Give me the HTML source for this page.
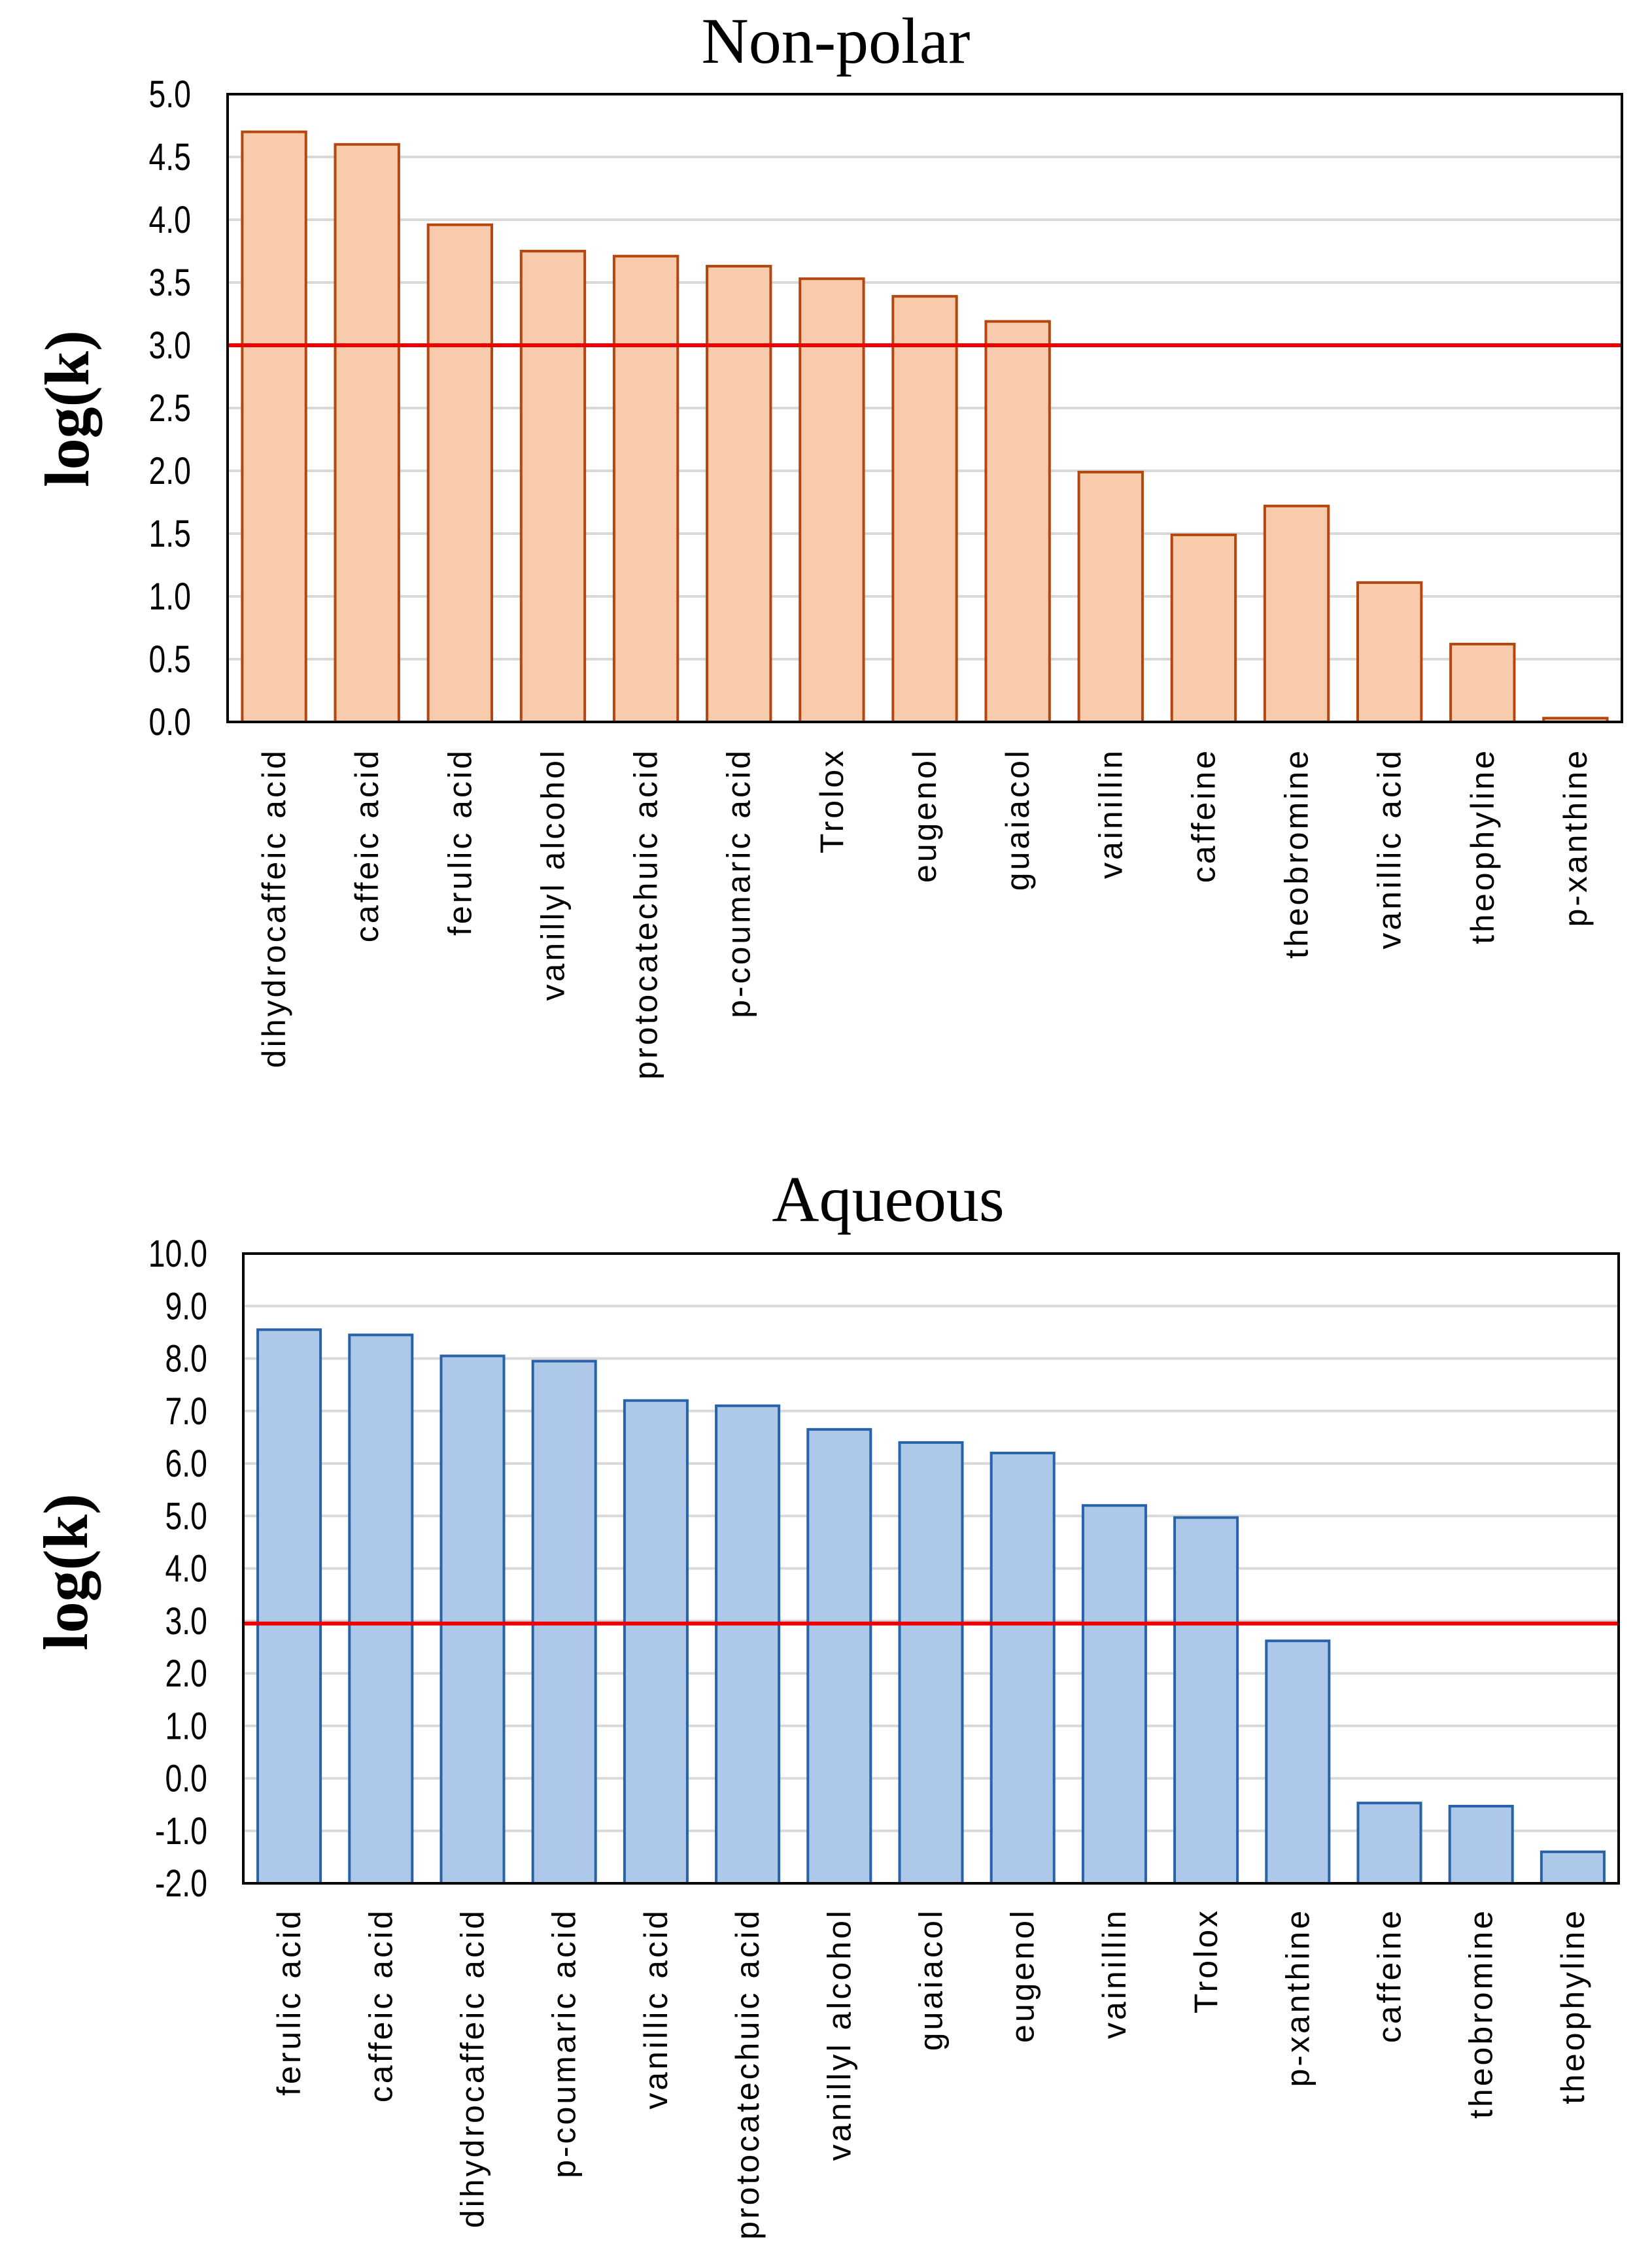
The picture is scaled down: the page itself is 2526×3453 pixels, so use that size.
<!DOCTYPE html>
<html><head><meta charset="utf-8">
<style>
html,body{margin:0;padding:0;background:#fff;}
svg{display:block;}
</style></head>
<body>
<svg id="chart" width="2526" height="3453" viewBox="0 0 2526 3453" xmlns="http://www.w3.org/2000/svg"></svg>
<script>
const npCategories = ["dihydrocaffeic acid","caffeic acid","ferulic acid","vanillyl alcohol","protocatechuic acid","p-coumaric acid","Trolox","eugenol","guaiacol","vainillin","caffeine","theobromine","vanillic acid","theophyline","p-xanthine"];
const npValues = [4.70,4.60,3.96,3.75,3.71,3.63,3.53,3.39,3.19,1.99,1.49,1.72,1.11,0.62,0.03];
const npTicks = ["0.0","0.5","1.0","1.5","2.0","2.5","3.0","3.5","4.0","4.5","5.0"];
const npThreshold = 3.0;

const aqCategories = ["ferulic acid","caffeic acid","dihydrocaffeic acid","p-coumaric acid","vanillic acid","protocatechuic acid","vanillyl alcohol","guaiacol","eugenol","vainillin","Trolox","p-xanthine","caffeine","theobromine","theophyline"];
const aqValues = [8.55,8.45,8.05,7.95,7.2,7.1,6.65,6.4,6.2,5.2,4.97,2.62,-0.47,-0.53,-1.4];
const aqTicks = ["-2.0","-1.0","0.0","1.0","2.0","3.0","4.0","5.0","6.0","7.0","8.0","9.0","10.0"];
const aqThreshold = 2.95;

const NS = "http://www.w3.org/2000/svg";
const svg = document.getElementById('chart');
function mk(tag, attrs, parent){
  const e = document.createElementNS(NS, tag);
  for (const k in attrs) e.setAttribute(k, attrs[k]);
  (parent||svg).appendChild(e);
  return e;
}

function drawChart(o){
  const g = mk('g', {});
  
  
  const ymin = parseFloat(o.ticks[0]), ymax = parseFloat(o.ticks[o.ticks.length-1]);
  const y = v => o.bottom - (v - ymin) / (ymax - ymin) * (o.bottom - o.top);
  const band = (o.right - o.left) / o.cats.length;
  const x = i => o.left + band * (i + 0.5);
  const bw = band * 0.685;

  const t = mk('text', {x:o.titleX, y:o.titleY, 'text-anchor':'middle', 'font-family':'"Liberation Serif", serif', 'font-size':100}, g);
  t.textContent = o.title;
  
  

  const yl = mk('text', {x:0, y:0, transform:`translate(${o.ylabX},${o.ylabY}) rotate(-90)`, 'text-anchor':'middle', 'font-family':'"Liberation Serif", serif', 'font-weight':'bold', 'font-size':96}, g);
  yl.textContent = 'log(k)';
  
  

  o.ticks.forEach(tk => {
    const v = parseFloat(tk);
    if (v !== ymin && v !== ymax) {
      const gl = mk('line', {x1:o.left, x2:o.right, y1:y(v), y2:y(v), stroke:'#d9d9d9', 'stroke-width':4}, g);
      
      
    }
    const tl = mk('text', {x:0, y:0, transform:`translate(${o.tickX},${y(v)+20}) scale(0.8,1)`, 'text-anchor':'end', 'font-family':'"Liberation Sans", sans-serif', 'font-size':58}, g);
    tl.textContent = tk;
    
    
  });

  o.vals.forEach((v, i) => {
    const y0 = y(ymin), y1 = y(v);
    const r = mk('rect', {x:x(i)-bw/2, y:Math.min(y0,y1), width:bw, height:Math.abs(y0-y1), fill:o.fill, stroke:o.stroke, 'stroke-width':4}, g);
    
    
  });

  o.cats.forEach((c, i) => {
    const l = mk('text', {x:0, y:0, transform:`translate(${x(i)+17},${o.labTop}) rotate(-90)`, 'text-anchor':'end', 'font-family':'"Liberation Sans", sans-serif', 'font-size':50, 'letter-spacing':4}, g);
    l.textContent = c;
    
    
  });

  const th = mk('line', {x1:o.left, x2:o.right, y1:y(o.thr), y2:y(o.thr), stroke:'#ee0000', 'stroke-width':6}, g);
  
  

  const b = mk('rect', {x:o.left, y:o.top, width:o.right-o.left, height:o.bottom-o.top, fill:'none', stroke:'#000', 'stroke-width':4}, g);
  
  
}

drawChart({name:'non-polar-chart', title:'Non-polar', titleX:1278, titleY:96, ylabX:135, ylabY:625,
  left:348, right:2480, top:144, bottom:1104, tickX:292, labTop:1144,
  cats:npCategories, vals:npValues, ticks:npTicks, thr:npThreshold, fill:'#f8cbad', stroke:'#b4470f'});

drawChart({name:'aqueous-chart', title:'Aqueous', titleX:1358, titleY:1867, ylabX:133, ylabY:2404,
  left:372, right:2475, top:1917, bottom:2880, tickX:317, labTop:2918,
  cats:aqCategories, vals:aqValues, ticks:aqTicks, thr:aqThreshold, fill:'#aec8e9', stroke:'#2862a8'});
</script>
</body></html>
